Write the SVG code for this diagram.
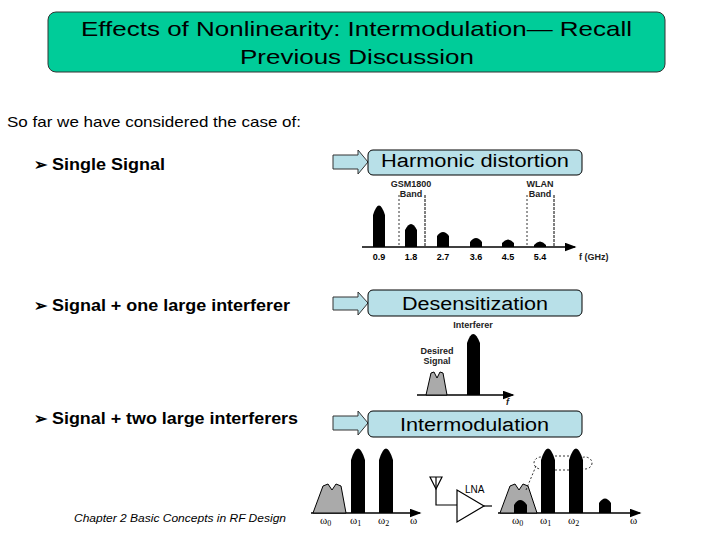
<svg xmlns="http://www.w3.org/2000/svg" width="720" height="540" viewBox="0 0 720 540">
<style>
text{font-family:"Liberation Sans",Arial,sans-serif;fill:#000}
.b{font-weight:bold;font-size:16px}
.lb{fill:#B8E0E8;stroke:#000;stroke-width:1}
.ar{fill:#B8E0E8;stroke:#333;stroke-width:1}
.s{font-size:9px;font-weight:bold;fill:#222}
.ax{stroke:#000;stroke-width:1.5;fill:none}
.dot{stroke:#000;stroke-width:0.8;stroke-dasharray:2,2;fill:none}
.g{fill:#AAA;stroke:#000;stroke-width:1}
.w{font-family:"Liberation Serif",serif;font-size:11px}
</style>
<defs><marker id="m" markerWidth="8" markerHeight="6" refX="7" refY="3" orient="auto"><path d="M0,0L8,3L0,6z" fill="#000"/></marker></defs>
<rect width="720" height="540" fill="#fff"/>
<g id="title"><rect x="48" y="12" width="617" height="60" rx="8" fill="#00CC99" stroke="#333"/>
<text x="81" y="36" font-size="21" textLength="551" lengthAdjust="spacingAndGlyphs">Effects of Nonlinearity: Intermodulation— Recall</text>
<text x="240" y="64" font-size="21" textLength="234" lengthAdjust="spacingAndGlyphs">Previous Discussion</text></g>
<text x="7" y="127" font-size="15" textLength="294" lengthAdjust="spacingAndGlyphs">So far we have considered the case of:</text>
<g id="bullets">
<text x="34" y="170" class="b" font-family="DejaVu Sans">➢</text><text x="52" y="170" class="b" textLength="113" lengthAdjust="spacingAndGlyphs">Single Signal</text>
<text x="34" y="311" class="b" font-family="DejaVu Sans">➢</text><text x="52" y="311" class="b" textLength="238" lengthAdjust="spacingAndGlyphs">Signal + one large interferer</text>
<text x="34" y="424" class="b" font-family="DejaVu Sans">➢</text><text x="52" y="424" class="b" textLength="246" lengthAdjust="spacingAndGlyphs">Signal + two large interferers</text></g>
<g id="connectors">
<path class="ar" d="M333,155H358V150L368,162L358,174V169H333Z"/>
<path class="ar" d="M333,297H358V292L368,303L358,315V310H333Z"/>
<path class="ar" d="M333,416H358V411L368,423L358,435V430H333Z"/></g>
<g id="harm"><rect class="lb" x="368" y="150" width="214" height="25" rx="5"/><text x="381" y="167" font-size="18" textLength="188" lengthAdjust="spacingAndGlyphs">Harmonic distortion</text></g>
<g id="desens"><rect class="lb" x="368" y="290" width="214" height="26" rx="5"/><text x="402" y="310" font-size="18" textLength="146" lengthAdjust="spacingAndGlyphs">Desensitization</text></g>
<g id="intermod"><rect class="lb" x="368" y="411" width="214" height="26" rx="5"/><text x="400" y="431" font-size="18" textLength="149" lengthAdjust="spacingAndGlyphs">Intermodulation</text></g>
<g id="spectrum1">
<line class="ax" x1="362" y1="247" x2="575" y2="247" marker-end="url(#m)"/>
<path d="M373,247V215Q379,196 385,215V247Z"/><path d="M405,247V230Q411,218 417,230V247Z"/>
<path d="M437,247V236Q443,228 449,236V247Z"/><path d="M470,247V242Q476,234 482,242V247Z"/>
<path d="M502,247V243Q508,236 514,243V247Z"/><path d="M534,247V245Q540,238 546,245V247Z"/>
<line class="dot" x1="399" y1="195" x2="399" y2="247"/><line class="ax" stroke-dasharray="3,1" x1="425" y1="195" x2="425" y2="247" style="stroke-width:1"/>
<line class="dot" x1="527" y1="195" x2="527" y2="247"/><line class="ax" stroke-dasharray="3,1" x1="554" y1="195" x2="554" y2="247" style="stroke-width:1"/>
<text class="s" x="411" y="187" text-anchor="middle">GSM1800</text><text class="s" x="411" y="197" text-anchor="middle">Band</text>
<text class="s" x="540" y="187" text-anchor="middle">WLAN</text><text class="s" x="540" y="197" text-anchor="middle">Band</text>
<g class="s" text-anchor="middle"><text x="379" y="260">0.9</text><text x="411" y="260">1.8</text><text x="443" y="260">2.7</text><text x="476" y="260">3.6</text><text x="508" y="260">4.5</text><text x="540" y="260">5.4</text></g>
<text class="s" x="579" y="260">f (GHz)</text></g>
<g id="spectrum2">
<line class="ax" x1="417" y1="395" x2="513" y2="395" marker-end="url(#m)"/>
<path class="g" d="M426,395L431,373L434,372L437,378L440,372L443,373L447,395Z"/>
<path d="M467,395V343Q473,325 480,343V395Z"/>
<text class="s" x="473" y="328" text-anchor="middle">Interferer</text>
<text class="s" x="437" y="354" text-anchor="middle">Desired</text><text class="s" x="437" y="364" text-anchor="middle">Signal</text>
<text class="s" x="506" y="405" font-style="italic">f</text></g>
<g id="spectrum3">
<line class="ax" x1="311" y1="513" x2="420" y2="513" marker-end="url(#m)"/>
<path class="g" d="M313,513L323,486L328,484L332,490L336,484L341,486L346,513Z"/>
<path d="M351,513V460Q358,437 365,460V513Z"/><path d="M379,513V460Q386,437 393,460V513Z"/>
<text class="w" x="320" y="524">ω<tspan font-size="8" dy="2">0</tspan></text><text class="w" x="350" y="524">ω<tspan font-size="8" dy="2">1</tspan></text><text class="w" x="378" y="524">ω<tspan font-size="8" dy="2">2</tspan></text><text class="w" x="410" y="524">ω</text></g>
<g id="lna" fill="none" stroke="#000" stroke-width="1.2">
<path d="M430,477H442L436,489Z"/><path d="M436,477V505H457"/>
<path d="M457,490V522L484,506Z" fill="#fff"/><path d="M484,506H492"/>
<text x="465" y="493" font-size="10" stroke="none" fill="#000">LNA</text></g>
<g id="spectrum4">
<line class="ax" x1="498" y1="513" x2="640" y2="513" marker-end="url(#m)"/>
<path class="g" d="M500,513L510,486L515,484L519,490L523,484L528,486L537,513Z"/>
<path d="M514,513V505Q520,495 527,505V513Z"/>
<path d="M541,513V460Q548,437 555,460V513Z"/><path d="M569,513V460Q576,437 583,460V513Z"/>
<path d="M599,513V503Q605,494 611,503V513Z"/>
<path class="dot" d="M555,456H569M555,470H569"/>
<ellipse class="dot" cx="541" cy="463" rx="7" ry="6"/><ellipse class="dot" cx="585" cy="463" rx="7" ry="6"/>
<path class="dot" d="M536,466L526,490"/>
<text class="w" x="512" y="524">ω<tspan font-size="8" dy="2">0</tspan></text><text class="w" x="540" y="524">ω<tspan font-size="8" dy="2">1</tspan></text><text class="w" x="568" y="524">ω<tspan font-size="8" dy="2">2</tspan></text><text class="w" x="630" y="524">ω</text></g>
<text x="74" y="522" font-size="11" font-style="italic" textLength="212" lengthAdjust="spacingAndGlyphs">Chapter 2 Basic Concepts in RF Design</text>
</svg>
